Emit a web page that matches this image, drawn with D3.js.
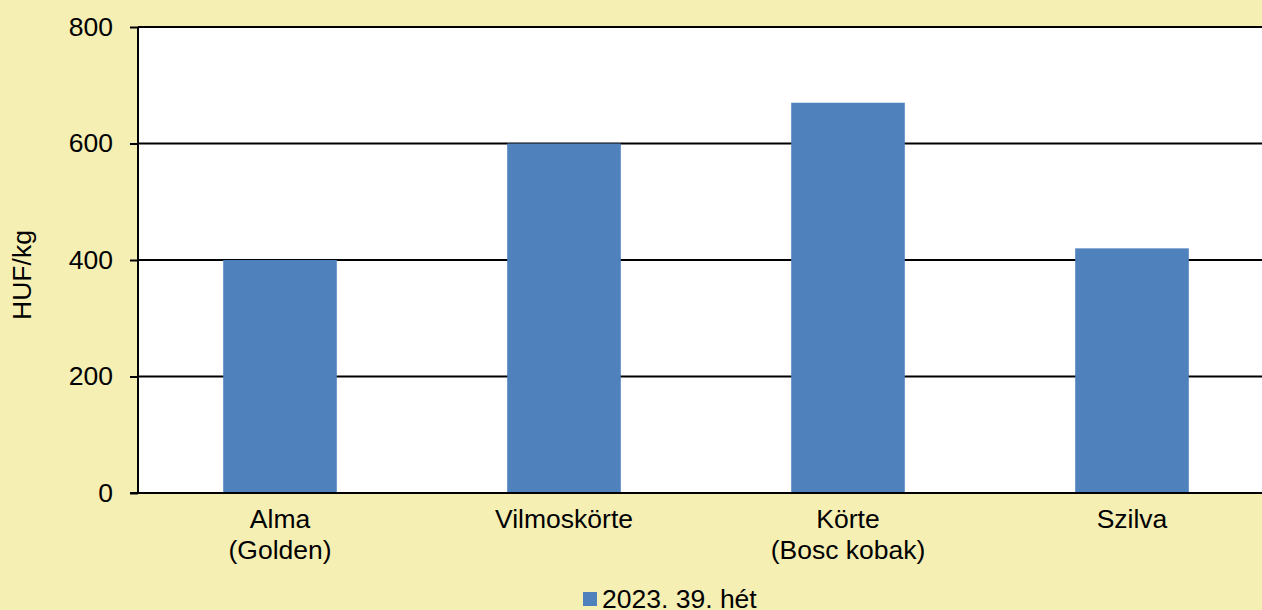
<!DOCTYPE html>
<html>
<head>
<meta charset="utf-8">
<script src="https://cdn.jsdelivr.net/npm/d3@7"></script>
<style>
  html, body { margin: 0; padding: 0; background: #F5EFB4; overflow: hidden; }
  svg { display: block; }
  text { font-family: "Liberation Sans", Arial, sans-serif; fill: #000; }
</style>
</head>
<body>
<svg id="chart" width="1262" height="610"></svg>
<script>
const categories = [["Alma", "(Golden)"], ["Vilmoskörte"], ["Körte", "(Bosc kobak)"], ["Szilva"]];
const values = [400, 600, 670, 420];
const yTicks = [0, 200, 400, 600, 800];
const seriesName = "2023. 39. hét";
const yTitle = "HUF/kg";

const W = 1262, H = 610;
const FS = 26.5;
const margin = { left: 138, top: 27, right: -12, bottom: 117 };
const svg = d3.select("#chart");
svg.append("rect").attr("width", W).attr("height", H).attr("fill", "#F5EFB4");

const x = d3.scaleBand()
  .domain(categories.map((d, i) => i))
  .range([margin.left, W - margin.right])
  .paddingInner(0.6).paddingOuter(0.3);
const y = d3.scaleLinear().domain([0, 800]).range([H - margin.bottom, margin.top]);

// plot area
svg.append("rect")
  .attr("x", margin.left).attr("y", margin.top)
  .attr("width", W - margin.right - margin.left)
  .attr("height", y(0) - margin.top)
  .attr("fill", "#fff");

// gridlines
svg.append("g").selectAll("line").data(yTicks.filter(d => d > 0)).join("line")
  .attr("x1", margin.left).attr("x2", W - margin.right)
  .attr("y1", d => y(d)).attr("y2", d => y(d))
  .attr("stroke", "#000").attr("stroke-width", 2);

// bars
svg.append("g").selectAll("rect").data(values).join("rect")
  .attr("x", (d, i) => x(i)).attr("width", x.bandwidth())
  .attr("y", d => y(d)).attr("height", d => y(0) - y(d))
  .attr("fill", "#4F81BD");

// y axis
const yAxis = d3.axisLeft(y).tickValues(yTicks).tickSize(8).tickPadding(17);
const gy = svg.append("g").attr("transform", `translate(${margin.left},0)`).call(yAxis);
gy.select(".domain").attr("stroke", "#000").attr("stroke-width", 2).attr("d", `M0,${y(0)}V${y(800)}`);
gy.selectAll(".tick line").attr("stroke", "#000").attr("stroke-width", 2);
gy.selectAll(".tick text").attr("font-size", FS).attr("font-family", "Liberation Sans, Arial, sans-serif").attr("fill", "#000");

// x axis
const xAxis = d3.axisBottom(x).tickSize(0).tickFormat("");
const gx = svg.append("g").attr("transform", `translate(0,${y(0)})`).call(xAxis);
gx.select(".domain").attr("stroke", "#000").attr("stroke-width", 2).attr("d", `M${margin.left - 8},0H${W - margin.right}`);
gx.selectAll(".tick").each(function(d) {
  const t = d3.select(this).append("text").attr("text-anchor", "middle").attr("font-size", FS)
    .attr("font-family", "Liberation Sans, Arial, sans-serif").attr("fill", "#000");
  categories[d].forEach((line, j) => {
    t.append("tspan").attr("x", 0).attr("y", 35 + j * 31).text(line);
  });
});

// y title
svg.append("text")
  .attr("transform", `translate(31,275) rotate(-90)`)
  .attr("text-anchor", "middle").attr("font-size", FS)
  .text(yTitle);

// legend
const lg = svg.append("g").attr("transform", "translate(583,592)");
lg.append("rect").attr("width", 14).attr("height", 14).attr("fill", "#4F81BD");
lg.append("text").attr("x", 19).attr("y", 15.5).attr("font-size", FS).text(seriesName);
</script>
</body>
</html>
